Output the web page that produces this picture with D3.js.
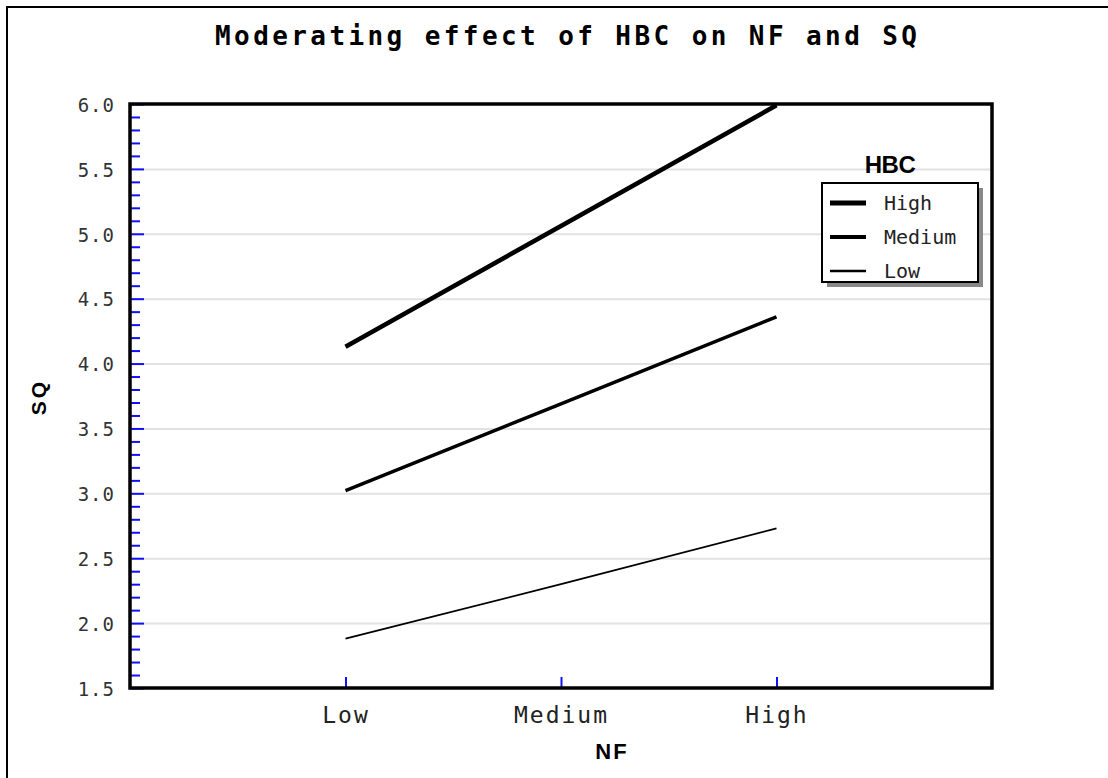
<!DOCTYPE html>
<html>
<head>
<meta charset="utf-8">
<script src="https://cdn.jsdelivr.net/npm/d3@7"></script>
<style>
  body { margin: 0; background: #fff; }
  svg { display: block; }
  .mono { font-family: "DejaVu Sans Mono", monospace; }
  .sans { font-family: "Liberation Sans", Arial, sans-serif; font-weight: bold; }
</style>
</head>
<body>
<svg id="chart"></svg>
<script>
// categories on the x axis (NF)
const nfLevels = ["Low", "Medium", "High"];
// moderator levels (HBC)
const hbcLevels = ["High", "Medium", "Low"];
// SQ values for each HBC level, in order Low / Medium / High NF
const sqHigh = [4.13, 5.06, 5.99];
const sqMedium = [3.02, 3.69, 4.36];
const sqLow = [1.88, 2.30, 2.73];
const yMajor = [1.5, 2.0, 2.5, 3.0, 3.5, 4.0, 4.5, 5.0, 5.5, 6.0];
const yMinor = d3.range(15, 61).map((d) => d / 10).filter((d) => !yMajor.includes(d));

const series = [
  { name: hbcLevels[0], values: sqHigh, width: 4.5 },
  { name: hbcLevels[1], values: sqMedium, width: 3.5 },
  { name: hbcLevels[2], values: sqLow, width: 1.8 },
];

const width = 1108;
const height = 778;
const plot = { left: 130, right: 992, top: 104, bottom: 688 };

const svg = d3.select("#chart").attr("width", width).attr("height", height);

// outer frame (runs off the picture to the right and bottom)
svg
  .append("rect")
  .attr("x", 7)
  .attr("y", 7)
  .attr("width", width + 20)
  .attr("height", height + 20)
  .attr("fill", "none")
  .attr("stroke", "#000")
  .attr("stroke-width", 2);

// scales
const x = d3
  .scaleLinear()
  .domain([0, nfLevels.length + 1])
  .range([plot.left, plot.right]);

const y = d3
  .scaleLinear()
  .domain([1.5, 6.0])
  .range([plot.bottom, plot.top]);

// gridlines
const grid = svg
  .append("g")
  .attr("transform", `translate(${plot.left},0)`)
  .call(
    d3.axisLeft(y)
      .tickValues(yMajor.slice(1, -1))
      .tickSize(-(plot.right - plot.left))
      .tickFormat("")
  );
grid.select(".domain").remove();
grid.selectAll("line").attr("stroke", "#e2e2e2").attr("stroke-width", 2);

// minor y ticks
const minor = svg
  .append("g")
  .attr("transform", `translate(${plot.left},0)`)
  .call(d3.axisLeft(y).tickValues(yMinor).tickSize(-10).tickFormat(""));
minor.select(".domain").remove();
minor.selectAll("line").attr("stroke", "#1010ff").attr("stroke-width", 2);

// major y ticks + labels
const yAxis = svg
  .append("g")
  .attr("transform", `translate(${plot.left},0)`)
  .call(
    d3.axisLeft(y)
      .tickValues(yMajor)
      .tickSize(-14)
      .tickPadding(15)
      .tickFormat(d3.format(".1f"))
  );
yAxis.select(".domain").remove();
yAxis.selectAll("line").attr("stroke", "#1010ff").attr("stroke-width", 2);
yAxis
  .selectAll("text")
  .attr("class", "mono")
  .attr("fill", "#333")
  .style("font-size", "19px")
  .style("letter-spacing", "1px")
  .attr("dy", "0.38em");

// x ticks + labels
const xAxis = svg
  .append("g")
  .attr("transform", `translate(0,${plot.bottom})`)
  .call(
    d3.axisBottom(x)
      .tickValues([1, 2, 3])
      .tickSize(-11)
      .tickPadding(19)
      .tickFormat((d) => nfLevels[d - 1])
  );
xAxis.select(".domain").remove();
xAxis.selectAll("line").attr("stroke", "#1010ff").attr("stroke-width", 2);
xAxis
  .selectAll("text")
  .attr("class", "mono")
  .attr("fill", "#222")
  .style("font-size", "23px")
  .style("letter-spacing", "2px");

// lines
const line = d3
  .line()
  .x((d, i) => x(i + 1))
  .y((d) => y(d));

svg
  .selectAll(".series")
  .data(series)
  .enter()
  .append("path")
  .attr("class", "series")
  .attr("d", (d) => line(d.values))
  .attr("fill", "none")
  .attr("stroke", "#000")
  .attr("stroke-width", (d) => d.width);

// plot frame
svg
  .append("rect")
  .attr("x", plot.left)
  .attr("y", plot.top)
  .attr("width", plot.right - plot.left)
  .attr("height", plot.bottom - plot.top)
  .attr("fill", "none")
  .attr("stroke", "#000")
  .attr("stroke-width", 3.5);

// title
svg
  .append("text")
  .attr("class", "mono")
  .attr("x", 566)
  .attr("y", 45)
  .attr("text-anchor", "middle")
  .attr("textLength", 702)
  .attr("lengthAdjust", "spacing")
  .style("font-size", "26px")
  .style("font-weight", "bold")
  .text("Moderating effect of HBC on NF and SQ");

// axis titles
svg
  .append("text")
  .attr("class", "sans")
  .attr("x", 612)
  .attr("y", 759)
  .attr("text-anchor", "middle")
  .style("font-size", "22px")
  .style("letter-spacing", "2px")
  .text("NF");

svg
  .append("text")
  .attr("class", "sans")
  .attr("transform", "translate(46,397) rotate(-90)")
  .attr("text-anchor", "middle")
  .style("font-size", "21px")
  .style("letter-spacing", "3px")
  .text("SQ");

// legend
const legend = { left: 822, top: 183, w: 156, h: 99 };

svg
  .append("text")
  .attr("class", "sans")
  .attr("x", 890)
  .attr("y", 173)
  .attr("text-anchor", "middle")
  .style("font-size", "24px")
  .style("letter-spacing", "-0.5px")
  .text("HBC");

svg
  .append("rect")
  .attr("x", legend.left + 5)
  .attr("y", legend.top + 5)
  .attr("width", legend.w)
  .attr("height", legend.h)
  .attr("fill", "#888");

svg
  .append("rect")
  .attr("x", legend.left)
  .attr("y", legend.top)
  .attr("width", legend.w)
  .attr("height", legend.h)
  .attr("fill", "#fff")
  .attr("stroke", "#000")
  .attr("stroke-width", 2);

const rowY = d3.scalePoint().domain(hbcLevels).range([203, 271]);

const items = svg
  .selectAll(".legend-item")
  .data(series)
  .enter()
  .append("g")
  .attr("class", "legend-item")
  .attr("transform", (d) => `translate(0,${rowY(d.name)})`);

items
  .append("line")
  .attr("x1", 830)
  .attr("x2", 866)
  .attr("stroke", "#000")
  .attr("stroke-width", (d) => d.width + 0.5);

items
  .append("text")
  .attr("class", "mono")
  .attr("x", 884)
  .attr("dy", "0.36em")
  .attr("fill", "#222")
  .style("font-size", "20px")
  .text((d) => d.name);
</script>
</body>
</html>
